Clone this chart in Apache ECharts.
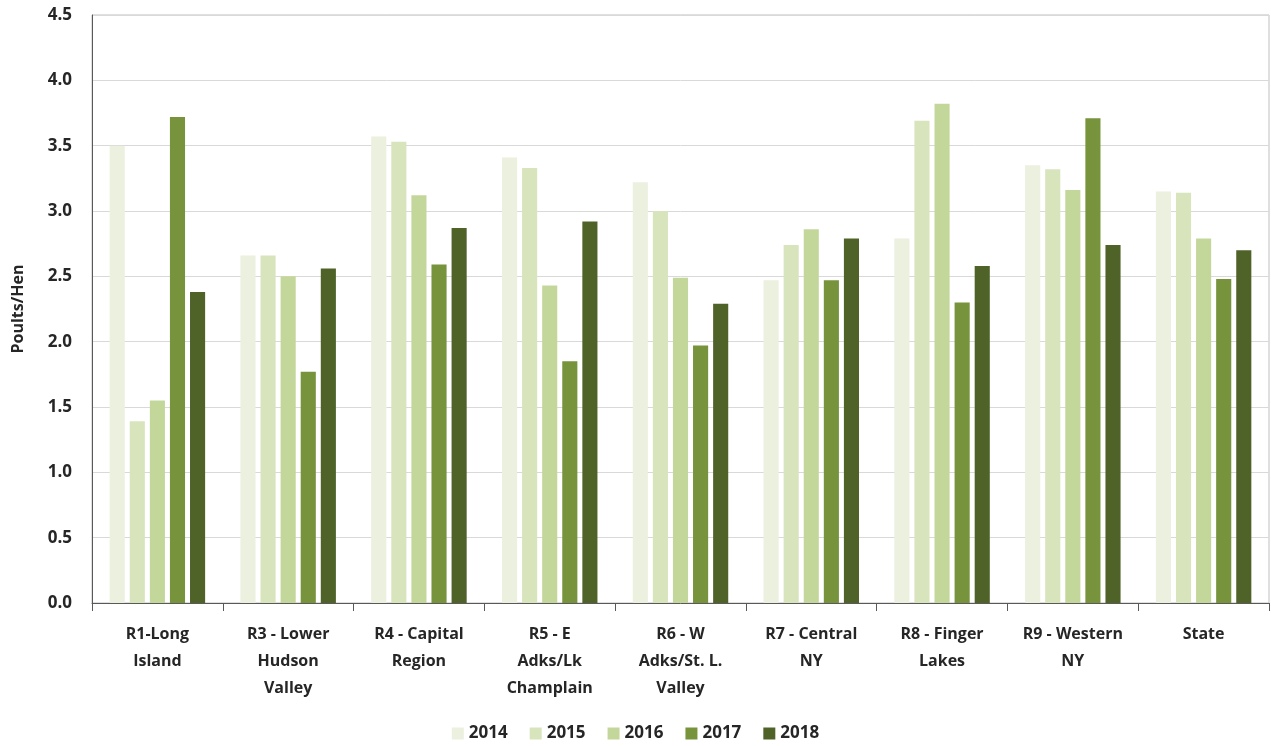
<!DOCTYPE html>
<html>
<head>
<meta charset="utf-8">
<script src="https://cdn.jsdelivr.net/npm/echarts@6/dist/echarts.min.js"></script>
<style>
  html, body { margin: 0; padding: 0; background: #fff; }
  #chart { width: 1271px; height: 746px; }
</style>
</head>
<body>
<div id="chart"></div>
<script>
const regions = [
  "R1-Long\nIsland",
  "R3 - Lower\nHudson\nValley",
  "R4 - Capital\nRegion",
  "R5 - E\nAdks/Lk\nChamplain",
  "R6 - W\nAdks/St. L.\nValley",
  "R7 - Central\nNY",
  "R8 - Finger\nLakes",
  "R9 - Western\nNY",
  "State"
];
const years = ["2014", "2015", "2016", "2017", "2018"];
const colors = ["#ebf0df", "#d8e4bc", "#c4d79b", "#77933c", "#4f6228"];

// poults per hen, one array per year
const y2014 = [3.50, 2.66, 3.57, 3.41, 3.22, 2.47, 2.79, 3.35, 3.15];
const y2015 = [1.39, 2.66, 3.53, 3.33, 3.00, 2.74, 3.69, 3.32, 3.14];
const y2016 = [1.55, 2.50, 3.12, 2.43, 2.49, 2.86, 3.82, 3.16, 2.79];
const y2017 = [3.72, 1.77, 2.59, 1.85, 1.97, 2.47, 2.30, 3.71, 2.48];
const y2018 = [2.38, 2.56, 2.87, 2.92, 2.29, 2.79, 2.58, 2.74, 2.70];
const yearData = [y2014, y2015, y2016, y2017, y2018];

const font = "'Open Sans', 'DejaVu Sans', sans-serif";
const chart = echarts.init(document.getElementById("chart"));

chart.setOption({
  animation: false,
  backgroundColor: "#fff",
  textStyle: { fontFamily: font },
  grid: {
    left: 92, right: 2, top: 15, bottom: 143,
    show: true, borderColor: "#bfbfbf", borderWidth: 1
  },
  legend: {
    bottom: -1,
    left: "center",
    itemWidth: 12,
    itemHeight: 12,
    itemGap: 22,
    icon: "rect",
    textStyle: { fontFamily: font, fontWeight: "bold", fontSize: 17, color: "#262626" },
    data: years
  },
  xAxis: {
    type: "category",
    data: regions,
    axisLine: { lineStyle: { color: "#595959", width: 1 } },
    axisTick: { show: true, length: 8, lineStyle: { color: "#595959" } },
    axisLabel: {
      interval: 0,
      margin: 18,
      fontFamily: font,
      fontWeight: "bold",
      fontSize: 16,
      lineHeight: 27,
      color: "#262626"
    }
  },
  yAxis: {
    type: "value",
    min: 0,
    max: 4.5,
    interval: 0.5,
    name: "Poults/Hen",
    nameLocation: "middle",
    nameGap: 66,
    nameRotate: 90,
    nameTextStyle: { fontFamily: font, fontWeight: "bold", fontSize: 16, color: "#262626" },
    axisLine: { show: true, lineStyle: { color: "#595959" } },
    axisTick: { show: false },
    axisLabel: {
      fontFamily: font,
      fontWeight: "bold",
      fontSize: 17,
      color: "#262626",
      margin: 20,
      formatter: v => v.toFixed(1)
    },
    splitLine: { lineStyle: { color: "#d9d9d9", width: 1 } }
  },
  series: years.map((y, i) => ({
    name: y,
    type: "bar",
    data: yearData[i],
    itemStyle: { color: colors[i] },
    barGap: "33%",
    barCategoryGap: "27%"
  }))
});
</script>
</body>
</html>
